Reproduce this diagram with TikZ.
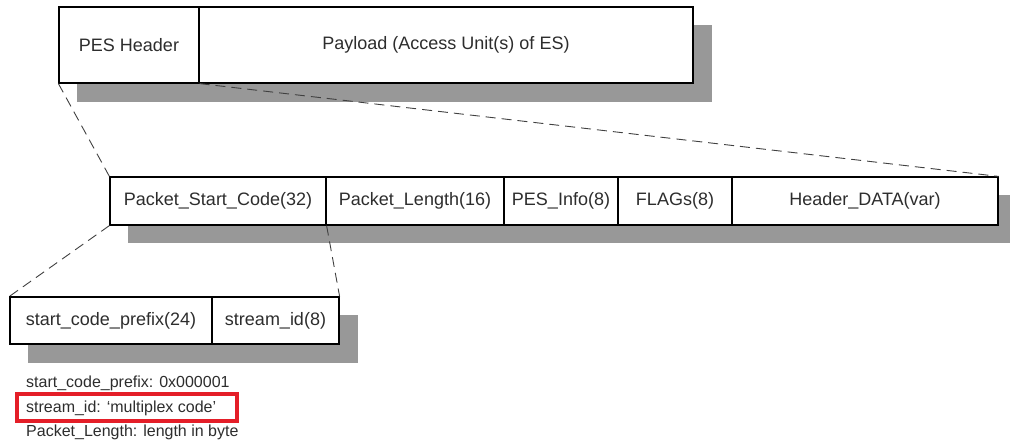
\documentclass[tikz,border=0pt]{standalone}
\usepackage{fontspec}
\setmainfont{Liberation Sans}
\usetikzlibrary{positioning}

\definecolor{shadowgray}{RGB}{152,152,152}
\definecolor{textgray}{RGB}{45,45,45}
\definecolor{markred}{RGB}{228,30,40}

\tikzset{
	cell/.style = {draw, line width = 1.2pt, fill = white, inner sep = 0pt,
		text = textgray, font = \fontsize{18}{22}\selectfont},
	shade/.style = {fill = shadowgray, draw = none},
	zoomline/.style = {dash pattern = on 10pt off 6pt, line width = 0.9pt, draw = black!75},
	note/.style = {anchor = west, inner sep = 0pt, text = textgray,
		font = \fontsize{16}{19}\selectfont}
}

\begin{document}
\begin{tikzpicture}[x = 1pt, y = -1pt]
			\useasboundingbox (0, 0) rectangle (1010, 443);
			%\draw[help lines, step = 50] (0,0) grid (1010,443);
			
			% shadows
			\fill[shade] (77, 25) rectangle (712, 102);
			\fill[shade] (128, 195) rectangle (1010, 243);
			\fill[shade] (28, 315) rectangle (358, 363);
			
			% PES packet
			\node[cell, minimum width = 140pt, minimum height = 76pt] (hdr) at (129, 45) {PES Header};
			\node[cell, minimum width = 494pt, minimum height = 76pt] (pay) at (446, 45) {Payload (Access Unit(s) of ES)};
			
			% PES header
			\node[cell, minimum width = 216pt, minimum height = 48pt] (psc) at (218, 201) {Packet\_Start\_Code(32)};
			\node[cell, minimum width = 178pt, minimum height = 48pt] (plen) at (415, 201) {Packet\_Length(16)};
			\node[cell, minimum width = 114pt, minimum height = 48pt] (info) at (561, 201) {PES\_Info(8)};
			\node[cell, minimum width = 114pt, minimum height = 48pt] (flags) at (675, 201) {FLAGs(8)};
			\node[cell, minimum width = 266pt, minimum height = 48pt] (hdata) at (865, 201) {Header\_DATA(var)};
			
			% start code
			\node[cell, minimum width = 202pt, minimum height = 47pt] (scp) at (111, 320.5) {start\_code\_prefix(24)};
			\node[cell, minimum width = 127pt, minimum height = 47pt] (sid) at (275.5, 320.5) {stream\_id(8)};
			
			\draw[zoomline] (hdr.south west) -- (psc.north west);
			\draw[zoomline] (hdr.south east) -- (hdata.north east);
			\draw[zoomline] (psc.south west) -- (scp.north west);
			\draw[zoomline] (psc.south east) -- (sid.north east);
			
			\node[note] (n1) at (26, 383) {start\_code\_prefix: 0x000001};
			\node[note] (n2) at (26, 408) {stream\_id: `multiplex code'};
			\node[note] (n3) at (26, 432) {Packet\_Length: length in byte};
			\draw[markred, line width = 3.2pt] (17, 394) rectangle (237, 421);
			
		\end{tikzpicture}
\end{document}
